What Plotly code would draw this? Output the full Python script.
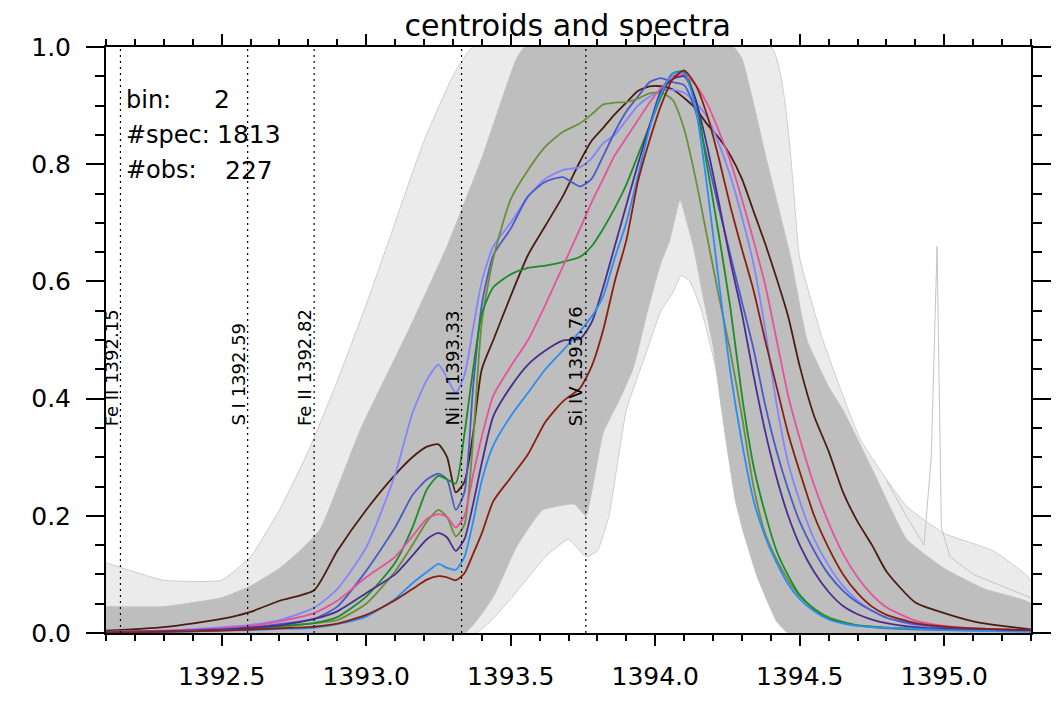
import plotly.graph_objects as go

# wavelength grid (Angstrom) for the centroid curves
wl = [1392.10, 1392.30, 1392.50, 1392.60, 1392.70, 1392.82, 1392.90, 1393.00, 1393.10, 1393.16,
      1393.21, 1393.25, 1393.28, 1393.31, 1393.34, 1393.37, 1393.40, 1393.44, 1393.50, 1393.56,
      1393.62, 1393.68, 1393.74, 1393.78, 1393.82, 1393.86, 1393.90, 1393.94, 1393.98, 1394.02,
      1394.06, 1394.10, 1394.14, 1394.18, 1394.22, 1394.26, 1394.30, 1394.34, 1394.38, 1394.42,
      1394.46, 1394.50, 1394.55, 1394.60, 1394.65, 1394.70, 1394.75, 1394.80, 1394.90, 1395.00,
      1395.10, 1395.20, 1395.30]

# centroid profiles
brown = [0.004, 0.010, 0.024, 0.036, 0.055, 0.073, 0.140, 0.210, 0.270, 0.300,
         0.318, 0.322, 0.300, 0.240, 0.258, 0.340, 0.450, 0.500, 0.575, 0.645,
         0.695, 0.745, 0.805, 0.840, 0.862, 0.885, 0.905, 0.925, 0.933, 0.933,
         0.928, 0.913, 0.895, 0.868, 0.845, 0.815, 0.775, 0.720, 0.665, 0.605,
         0.540, 0.455, 0.370, 0.310, 0.240, 0.190, 0.150, 0.105, 0.052, 0.034,
         0.020, 0.012, 0.006]
lavender = [0.002, 0.004, 0.010, 0.014, 0.022, 0.043, 0.075, 0.146, 0.270, 0.375,
            0.432, 0.458, 0.435, 0.410, 0.440, 0.520, 0.600, 0.660, 0.700, 0.745,
            0.775, 0.790, 0.795, 0.810, 0.836, 0.850, 0.875, 0.900, 0.915, 0.925,
            0.927, 0.922, 0.905, 0.880, 0.835, 0.780, 0.710, 0.630, 0.520, 0.390,
            0.290, 0.225, 0.160, 0.115, 0.080, 0.055, 0.038, 0.026, 0.014, 0.009,
            0.007, 0.005, 0.004]
royal = [0.002, 0.003, 0.007, 0.010, 0.015, 0.024, 0.045, 0.106, 0.180, 0.235,
         0.262, 0.272, 0.262, 0.210, 0.240, 0.420, 0.560, 0.645, 0.690, 0.745,
         0.770, 0.778, 0.762, 0.775, 0.814, 0.855, 0.890, 0.915, 0.940, 0.947,
         0.940, 0.935, 0.890, 0.810, 0.725, 0.645, 0.565, 0.485, 0.390, 0.310,
         0.245, 0.190, 0.140, 0.100, 0.072, 0.052, 0.038, 0.026, 0.015, 0.010,
         0.008, 0.006, 0.005]
olive = [0.002, 0.003, 0.005, 0.007, 0.010, 0.017, 0.022, 0.050, 0.105, 0.150,
         0.190, 0.210, 0.198, 0.165, 0.185, 0.330, 0.530, 0.640, 0.740, 0.790,
         0.830, 0.855, 0.870, 0.885, 0.902, 0.905, 0.906, 0.912, 0.921, 0.922,
         0.910, 0.860, 0.775, 0.675, 0.575, 0.480, 0.370, 0.250, 0.170, 0.125,
         0.090, 0.063, 0.042, 0.027, 0.019, 0.013, 0.010, 0.008, 0.006, 0.005,
         0.004, 0.004, 0.004]
green = [0.002, 0.003, 0.005, 0.008, 0.012, 0.017, 0.027, 0.062, 0.120, 0.180,
         0.245, 0.268, 0.262, 0.255, 0.340, 0.450, 0.545, 0.590, 0.612, 0.623,
         0.627, 0.633, 0.642, 0.660, 0.690, 0.725, 0.765, 0.815, 0.865, 0.915,
         0.955, 0.958, 0.910, 0.795, 0.680, 0.555, 0.405, 0.285, 0.205, 0.140,
         0.098, 0.065, 0.040, 0.025, 0.018, 0.013, 0.011, 0.009, 0.007, 0.006,
         0.005, 0.004, 0.004]
pink = [0.002, 0.004, 0.008, 0.012, 0.020, 0.034, 0.055, 0.095, 0.130, 0.165,
        0.195, 0.203, 0.198, 0.180, 0.200, 0.270, 0.335, 0.405, 0.455, 0.500,
        0.560, 0.625, 0.690, 0.735, 0.775, 0.815, 0.845, 0.875, 0.905, 0.930,
        0.950, 0.953, 0.935, 0.903, 0.857, 0.805, 0.740, 0.670, 0.595, 0.500,
        0.405, 0.332, 0.252, 0.188, 0.135, 0.095, 0.065, 0.044, 0.021, 0.012,
        0.008, 0.006, 0.005]
indigo = [0.002, 0.003, 0.006, 0.009, 0.013, 0.024, 0.037, 0.068, 0.100, 0.132,
          0.160, 0.171, 0.163, 0.140, 0.160, 0.220, 0.290, 0.370, 0.420, 0.458,
          0.482, 0.499, 0.502, 0.530, 0.590, 0.660, 0.730, 0.800, 0.865, 0.925,
          0.945, 0.950, 0.910, 0.830, 0.735, 0.635, 0.545, 0.440, 0.345, 0.265,
          0.200, 0.150, 0.104, 0.070, 0.046, 0.032, 0.023, 0.017, 0.010, 0.007,
          0.006, 0.005, 0.004]
skyblue = [0.001, 0.002, 0.004, 0.005, 0.007, 0.009, 0.015, 0.028, 0.058, 0.085,
           0.104, 0.118, 0.111, 0.108, 0.130, 0.190, 0.260, 0.320, 0.370, 0.410,
           0.450, 0.482, 0.515, 0.540, 0.575, 0.640, 0.700, 0.780, 0.860, 0.920,
           0.955, 0.955, 0.895, 0.760, 0.600, 0.445, 0.325, 0.227, 0.165, 0.120,
           0.083, 0.058, 0.037, 0.023, 0.016, 0.012, 0.010, 0.009, 0.007, 0.005,
           0.004, 0.003, 0.002]
darkred = [0.001, 0.002, 0.004, 0.006, 0.008, 0.011, 0.016, 0.031, 0.056, 0.075,
           0.091, 0.097, 0.095, 0.090, 0.102, 0.135, 0.170, 0.225, 0.265, 0.305,
           0.360, 0.395, 0.418, 0.455, 0.517, 0.600, 0.670, 0.770, 0.840, 0.900,
           0.945, 0.960, 0.935, 0.883, 0.810, 0.728, 0.655, 0.585, 0.500, 0.420,
           0.340, 0.275, 0.200, 0.145, 0.100, 0.068, 0.045, 0.031, 0.017, 0.011,
           0.008, 0.006, 0.005]

# envelope of the dense grey bundle of individual spectra
core_top_wl = [1392.10, 1392.30, 1392.50, 1392.60, 1392.70, 1392.77, 1392.84, 1392.98, 1393.15, 1393.28,
               1393.40, 1393.52, 1393.55, 1394.27, 1394.30, 1394.385, 1394.47, 1394.525, 1394.60, 1394.65,
               1394.75, 1394.87, 1395.00, 1395.14, 1395.30]
core_top_y = [0.045, 0.045, 0.060, 0.080, 0.110, 0.140, 0.176, 0.347, 0.520, 0.660,
              0.810, 0.980, 1.000, 1.000, 0.980, 0.808, 0.637, 0.500, 0.420, 0.380,
              0.280, 0.160, 0.110, 0.075, 0.050]
core_hole_wl = [1394.46, 1394.42, 1394.35, 1394.28, 1394.23, 1394.20, 1394.166, 1394.132, 1394.11, 1394.086,
                1394.05, 1394.017, 1393.97, 1393.924, 1393.878, 1393.82, 1393.78, 1393.76, 1393.72, 1393.61,
                1393.52, 1393.44, 1393.34]
core_hole_y = [0.000, 0.020, 0.100, 0.220, 0.380, 0.490, 0.574, 0.660, 0.700, 0.740,
               0.670, 0.628, 0.543, 0.452, 0.400, 0.342, 0.240, 0.200, 0.220, 0.210,
               0.147, 0.062, 0.000]

# envelope of the sparse outlying spectra
sparse_top_wl = [1392.10, 1392.30, 1392.50, 1392.60, 1392.70, 1392.80, 1392.90, 1393.00, 1393.10, 1393.20,
                 1393.30, 1393.37, 1394.40, 1394.50, 1394.58, 1394.71, 1394.87, 1395.00, 1395.17, 1395.30]
sparse_top_y = [0.120, 0.090, 0.090, 0.130, 0.210, 0.310, 0.430, 0.560, 0.700, 0.840,
                0.950, 1.000, 1.000, 0.640, 0.500, 0.330, 0.216, 0.170, 0.140, 0.090]
sparse_hole_wl = [1394.50, 1394.44, 1394.37, 1394.30, 1394.25, 1394.21, 1394.16, 1394.12, 1394.09, 1394.06,
                  1394.02, 1393.97, 1393.90, 1393.84, 1393.80, 1393.76, 1393.70, 1393.62, 1393.52, 1393.44,
                  1393.38]
sparse_hole_y = [0.000, 0.020, 0.080, 0.180, 0.320, 0.450, 0.550, 0.600, 0.610, 0.580,
                 0.550, 0.480, 0.380, 0.200, 0.140, 0.130, 0.160, 0.130, 0.070, 0.025,
                 0.000]

# single spiky spectrum near 1395.0
spike_wl = [1394.80, 1394.88, 1394.93, 1394.955, 1394.975, 1394.99, 1395.02, 1395.10, 1395.20, 1395.30]
spike_y = [0.260, 0.190, 0.150, 0.300, 0.660, 0.180, 0.130, 0.100, 0.080, 0.060]

# reference line positions
line_wl = [1392.15, 1392.59, 1392.82, 1393.33, 1393.76]
line_ion = ["Fe II", "S I", "Fe II", "Ni II", "Si IV"]

x_lo, x_hi = 1392.10, 1395.30

fig = go.Figure()


def band(top_wl, top_y, hole_wl, hole_y, color, edge):
    xs = top_wl + [x_hi] + hole_wl + [x_lo]
    ys = top_y + [0.0] + hole_y + [0.0]
    fig.add_trace(go.Scatter(x=xs, y=ys, fill="toself", fillcolor=color,
                             mode="lines", line=dict(width=1, color=edge, shape="spline", smoothing=0.4),
                             hoverinfo="skip", showlegend=False))


band(sparse_top_wl, sparse_top_y, sparse_hole_wl, sparse_hole_y,
     "rgba(195,195,195,0.33)", "rgba(195,195,195,0.8)")
band(core_top_wl, core_top_y, core_hole_wl, core_hole_y, "#bebebe", "#c2c2c2")

fig.add_trace(go.Scatter(x=spike_wl, y=spike_y, mode="lines",
                         line=dict(color="#c4c4c4", width=1), showlegend=False))

curves = [
    (brown, "#4b1c12"),
    (lavender, "#8484ff"),
    (royal, "#4a5ac8"),
    (olive, "#6b8e3a"),
    (green, "#1a8c28"),
    (pink, "#e5529c"),
    (indigo, "#4a2d8e"),
    (skyblue, "#2a8cf5"),
    (darkred, "#8b1e12"),
]
for vals, col in curves:
    fig.add_trace(go.Scatter(x=wl, y=vals, mode="lines",
                             line=dict(color=col, width=1.8, shape="spline", smoothing=0.6),
                             showlegend=False))

for w, ion in zip(line_wl, line_ion):
    fig.add_shape(type="line", x0=w, x1=w, y0=0, y1=1, xref="x", yref="y",
                  line=dict(color="black", width=1.2, dash="2px,4px"), layer="above")
    fig.add_annotation(x=w, y=0.35, xref="x", yref="y", text=f"{ion} {w:.2f}",
                       textangle=-90, xanchor="right", yanchor="bottom", xshift=3,
                       showarrow=False, font=dict(size=18, color="black"))

info = [("bin:", "2", 0.1146, 0.9096), ("#spec:", "1813", 0.1178, 0.850),
        ("#obs:", "227", 0.1265, 0.790)]
for lab, num, xn, yy in info:
    fig.add_annotation(x=0.0195, y=yy, xref="paper", yref="paper", text=lab,
                       xanchor="left", yanchor="middle", showarrow=False,
                       font=dict(size=24, color="black"))
    fig.add_annotation(x=xn, y=yy, xref="paper", yref="paper", text=num,
                       xanchor="left", yanchor="middle", showarrow=False,
                       font=dict(size=25, color="black"))

axis_common = dict(showline=True, linecolor="black", linewidth=2, mirror="ticks",
                   ticks="outside", tickcolor="black", tickwidth=1.8,
                   showgrid=False, zeroline=False, automargin=False,
                   tickfont=dict(size=25, color="black"))

fig.update_xaxes(range=[x_lo, x_hi], tick0=1392.5, dtick=0.5, tickformat=".1f",
                 ticklen=11, ticklabelstandoff=9,
                 minor=dict(dtick=0.1, ticklen=6, tickcolor="black", tickwidth=1.5, ticks="outside"),
                 **axis_common)
fig.update_yaxes(range=[0, 1.0], dtick=0.2, tickformat=".1f",
                 ticklen=18, ticklabelstandoff=10,
                 minor=dict(dtick=0.05, ticklen=9, tickcolor="black", tickwidth=1.5, ticks="outside"),
                 **axis_common)

# page body adds an 8 px offset, so the figure is sized to sit inside the window
fig.update_layout(
    width=1054, height=699,
    margin=dict(l=98, r=31, t=39, b=74),
    paper_bgcolor="white", plot_bgcolor="white",
    font=dict(family="DejaVu Sans", color="black"),
    title=dict(text="centroids and spectra", x=0.531, xanchor="center",
               y=0.975, yanchor="middle", font=dict(size=30, color="black")),
)

fig.write_html("out.html")
